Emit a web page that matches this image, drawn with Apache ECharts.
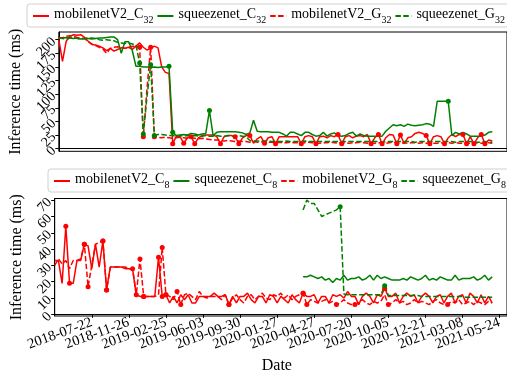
<!DOCTYPE html>
<html>
<head>
<meta charset="utf-8">
<script src="https://cdn.jsdelivr.net/npm/echarts@6/dist/echarts.min.js"></script>
<style>
  html, body { margin: 0; padding: 0; background: #fff; }
  #chart { width: 507px; height: 375px; }
</style>
</head>
<body>
<div id="chart"></div>
<script>
// x is the sample index; dates only on every 10th tick
const tickPos = [0, 10, 20, 30, 40, 50, 60, 70, 80, 90, 100, 110, 120]
const tickLabels = ['', '2018-07-22', '2018-11-26', '2019-02-25', '2019-06-03', '2019-09-30',
  '2020-01-27', '2020-04-27', '2020-07-20', '2020-10-05', '2020-12-21', '2021-03-08', '2021-05-24']
const topTicks = [0, 25, 50, 75, 100, 125, 150, 175, 200]
const bottomTicks = [0, 10, 20, 30, 40, 50, 60, 70]

// --- 32-bit (top) ---
const mobileC32 = [200,160,197,206,209,208,209,204,197,191,190,188,185,180,184,179,182,185,184,186,
  182,188,194,186,181,184,188,185,150,140,138,9,
  23,22,10,20,22,9,20,24,25,25,25,22,9,22,24,24,22,9,20,24,24,10,18,22,10,20,22,9,
  22,22,22,22,22,22,9,22,24,22,9,22,23,20,24,22,26,9,22,24,20,23,24,22,26,9,20,26,9,20,
  26,25,9,25,9,20,22,28,30,28,24,9,22,24,22,9,20,26,22,26,26,9,22,9,20,26,9,16,14]
const mobileC32Marks = [31,34,36,37,44,48,49,52,56,59,66,70,76,77,85,87,88,92,93,100,101,105,110,111,113,115,116]

const squeezeC32 = [202,203,204,203,202,203,201,202,202,201,202,203,203,204,205,205,200,175,196,196,
  180,151,151,150,150,149,150,149,150,150,151,
  30,24,25,26,25,28,27,25,27,28,70,24,30,31,31,31,31,31,30,29,26,29,52,32,31,31,31,30,30,
  30,27,23,30,30,27,24,30,30,26,23,24,30,23,27,29,24,23,24,28,30,23,27,24,23,23,23,23,23,32,
  38,44,42,44,41,45,43,42,43,44,46,45,41,87,87,87,87,24,30,27,30,27,23,23,23,23,25,30,31]
const squeezeC32Marks = [30, 31, 41, 106]

const mobileG32 = [204,203,206,207,206,204,203,202,196,192,189,186,183,175,184,186,187,186,184,186,
  188,187,186,22,110,186,22,
  21,20,21,20,19,20,21,20,19,20,19,18,19,18,
  17,16,16,15,14,15,14,13,14,13,13,12,13,12,12,13,12,12,11,
  12,11,11,12,11,11,10,11,12,11,11,10,11,11,12,11,10,11,11,10,11,11,12,11,10,11,10,11,11,10,
  11,12,11,10,11,10,11,11,10,11,10,11,10,10,11,10,11,10,11,10,10,11,10,10,11,10,10,11,10]
const mobileG32Marks = [22, 23, 25, 26]

const squeezeG32 = [203,202,201,203,204,202,201,202,203,203,202,200,199,200,199,198,195,194,193,194,
  192,190,157,27,95,154,24,
  26,26,25,24,24,23,24,23,24,23,24,23,23,24,23,23,24,23,23,24,23,23,24,23,22,
  15,14,14,14,14,14,13,14,13,13,14,13,13,13,13,14,13,13,13,13,13,13,13,13,13,13,13,13,13,13,
  13,13,13,13,13,13,12,13,13,13,13,13,13,13,13,12,13,13,13,13,13,13,13,13,13,13,12,13,13,13,
  13,12,12,12,13,12,12]
const squeezeG32Marks = [22, 23, 25, 26]

// --- 8-bit (bottom) ---
const mobileC8 = [33,33,19,54,19,19,33,33,43,42,28,43,29,45,15,29,29,29,29,28,28,28,12,11,11,11,11,11,35,11,12,
  7,11,7,12,9,12,7,7,11,11, 11,11,13,11,11,12,6,11,7,11, 11,13,9,7,11,11,7,12,11,7,
  11,9,7,12,9,7,13,11,11,12, 7,11,11,7,12,11,12,10,14,11, 11,6,11,13,11,7,12,11,16,11,
  11,13,7,11,13,11,12,7,11,13, 11,7,11,12,7,11,13,7,11,12, 7,13,11,7,12,7,11,7]
const mobileC8Marks = [3,4,8,13,14,21,22,24,28,29,30,47,67,89]

const mobileG8 = [30,34,31,33,28,33,33,34,43,17,30,43,44,45,15,29,29,29,29,29,28,28,12,34,11,11,11,11,12,41,12,
  11,9,14,6,12,13,11,9,14,11, 10,11,11,11,9,12,6,10,12,9, 7,11,12,9,11,13,10,9,12,11,
  13,10,12,9,11,12,13,6,9,8, 7,8,9,7,8,6,7,9,7,6, 6,7,9,7,6,8,7,8,12,6,
  7,9,7,8,6,7,9,7,8,7, 6,8,9,7,6,6,8,7,9,6, 7,8,6,8,7,6,8,7]
const mobileG8Marks = [8,9,13,14,23,24,29,30,33,34,47,67,68,76,81,90,106]

const squeezeStart8 = 67
const squeezeC8 = [23,23,24,23,22,23,21,22,19.5,22, 21,24,21,22,22,23,21,22,24,21,
  24,22,23,22,21,21,21,22,21,23, 22,21,22,24,21,22,21,23,22,21, 21,24,21,22,22,22,23,21,22,24, 21,23]
const squeezeC8Marks = []
const squeezeG8 = [64,70,68,68,64,60,61,62,63,64, 66,12.5,12,12,12,12,12,12,12,12,
  12,12,17.5,11.5,11.5,11.5,11.5,11.5,11.5,11.5, 11.5,11.5,11,11,11,11,11,11,11,11,
  11,11,11,11,10.5,10.5,10.5,10.5,10.5,10.5, 10.5,10.5]
const squeezeG8Marks = [77, 89]

const RED = '#ff0000'
const GREEN = '#008000'
const FONT = 'Liberation Serif'
const X_MAX = 122

function toData(values, marks, start = 0) {
  return values.map((v, k) => {
    const i = start + k
    if (marks.includes(i)) return { value: [i, v], symbol: 'circle', symbolSize: 5 }
    return [i, v]
  })
}

function line(name, values, marks, color, dashed, grid, start) {
  return {
    name,
    type: 'line',
    xAxisIndex: grid,
    yAxisIndex: grid,
    data: toData(values, marks, start),
    symbol: 'none',
    itemStyle: { color },
    lineStyle: { color, width: 1.5, type: dashed ? [5.5, 2.4] : 'solid' },
    emphasis: { disabled: true },
  }
}

const subRich = {
  n: { fontFamily: FONT, fontSize: 14, color: '#000', padding: [0, 0, 4, 0], verticalAlign: 'bottom' },
  s: { fontFamily: FONT, fontSize: 10, color: '#000', verticalAlign: 'bottom' },
}
function subName(name) {
  const m = name.match(/^(.*_[CG])(\d+)$/)
  return m ? `{n|${m[1]}}{s|${m[2]}}` : name
}

function legend(names, left, top) {
  return {
    data: names,
    left, top,
    width: 620,
    itemWidth: 16,
    itemHeight: 10,
    itemGap: 3,
    padding: [3, 4, 2, 5],
    borderColor: '#d0d0d0',
    borderWidth: 1,
    borderRadius: 3,
    backgroundColor: '#fff',
    itemStyle: { opacity: 0 },
    formatter: subName,
    textStyle: { fontFamily: FONT, fontSize: 14, color: '#000', rich: subRich },
  }
}

// pad the label list with dummy ends so the min/max overlap check drops only those
function padEnds(values, lo, hi) {
  return [lo, ...values, hi]
}

function yAxis(grid, min, max, ticks) {
  return {
    type: 'value',
    gridIndex: grid,
    min, max,
    name: 'Inference time (ms)',
    nameLocation: 'middle',
    nameGap: 30,
    nameTextStyle: { fontFamily: FONT, fontSize: 16, color: '#000' },
    splitLine: { show: false },
    axisLine: { show: true, lineStyle: { color: '#000', width: 1 } },
    axisTick: { show: true, length: 3.5, customValues: padEnds(ticks, min, max), lineStyle: { color: '#000' } },
    axisLabel: {
      rotate: 45, margin: 5, fontFamily: FONT, fontSize: 14, color: '#000',
      customValues: padEnds(ticks, min, max),
      formatter: v => (ticks.includes(v) ? String(v) : ''),
      hideOverlap: false, showMinLabel: false, showMaxLabel: false,
    },
  }
}

const chart = echarts.init(document.getElementById('chart'))
chart.setOption({
  animation: false,
  backgroundColor: '#fff',
  grid: [
    { left: 54.7, right: -15.3, top: 32, bottom: 223.7, show: true, borderColor: '#000', borderWidth: 1 },
    { left: 54.7, right: -15.3, top: 198.5, bottom: 57.3, show: true, borderColor: '#000', borderWidth: 1 },
  ],
  legend: [
    legend(['mobilenetV2_C32', 'squeezenet_C32', 'mobilenetV2_G32', 'squeezenet_G32'], 27, 4),
    legend(['mobilenetV2_C8', 'squeezenet_C8', 'mobilenetV2_G8', 'squeezenet_G8'], 48, 169),
  ],
  xAxis: [
    {
      type: 'value', gridIndex: 0, min: 0, max: X_MAX,
      splitLine: { show: false },
      axisLine: { show: true, lineStyle: { color: '#000' } },
      axisTick: { show: false },
      axisLabel: { show: false },
    },
    {
      type: 'value', gridIndex: 1, min: 0, max: X_MAX,
      name: 'Date', nameLocation: 'middle', nameGap: 42,
      nameTextStyle: { fontFamily: FONT, fontSize: 16, color: '#000', padding: [0, 8, 0, 0] },
      splitLine: { show: false },
      axisLine: { show: true, lineStyle: { color: '#000' } },
      axisTick: { show: true, length: 3.5, customValues: [-1, ...tickPos, X_MAX], lineStyle: { color: '#000' } },
      axisLabel: {
        customValues: [-1, ...tickPos, X_MAX],
        formatter: v => (tickPos.includes(v) ? tickLabels[tickPos.indexOf(v)] : ''),
        rotate: 20, margin: 6,
        hideOverlap: false, showMinLabel: false, showMaxLabel: false,
        fontFamily: FONT, fontSize: 14.5, color: '#000',
      },
    },
  ],
  yAxis: [
    yAxis(0, -4.8, 214, topTicks),
    yAxis(1, -1, 71, bottomTicks),
  ],
  series: [
    line('mobilenetV2_C32', mobileC32, mobileC32Marks, RED, false, 0),
    line('squeezenet_C32', squeezeC32, squeezeC32Marks, GREEN, false, 0),
    line('mobilenetV2_G32', mobileG32, mobileG32Marks, RED, true, 0),
    line('squeezenet_G32', squeezeG32, squeezeG32Marks, GREEN, true, 0),
    line('mobilenetV2_C8', mobileC8, mobileC8Marks, RED, false, 1),
    line('squeezenet_C8', squeezeC8, squeezeC8Marks, GREEN, false, 1, squeezeStart8),
    line('mobilenetV2_G8', mobileG8, mobileG8Marks, RED, true, 1),
    line('squeezenet_G8', squeezeG8, squeezeG8Marks, GREEN, true, 1, squeezeStart8),
  ],
})
</script>
</body>
</html>
